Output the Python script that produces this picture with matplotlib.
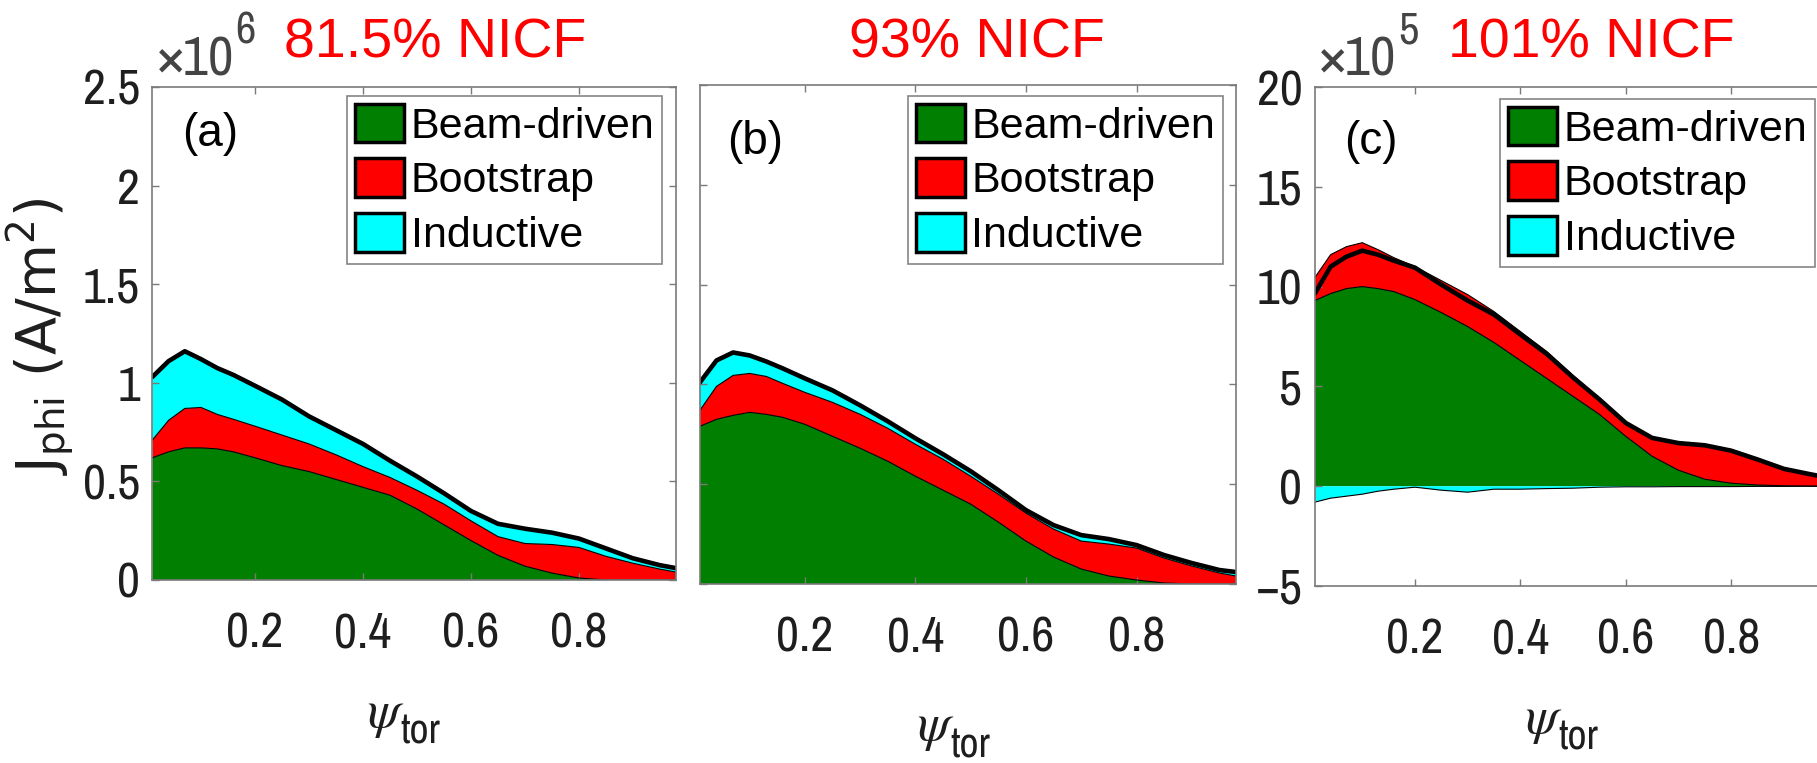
import matplotlib
matplotlib.use('Agg')
import matplotlib.pyplot as plt
from matplotlib.patches import Patch
from matplotlib import font_manager as fm
import numpy as np

W, H = 1817, 763

# normalised toroidal flux
psi = [0.01, 0.04, 0.07, 0.10, 0.13, 0.16, 0.20, 0.25, 0.30, 0.35, 0.40, 0.45,
       0.50, 0.55, 0.60, 0.65, 0.70, 0.75, 0.80, 0.85, 0.90, 0.95, 0.98]

# (a) 81.5% NICF, units 1e6 A/m^2
beam_a = [0.62, 0.65, 0.67, 0.67, 0.665, 0.65, 0.62, 0.58, 0.55, 0.51, 0.47, 0.43,
          0.36, 0.28, 0.20, 0.125, 0.07, 0.035, 0.01, 0.0, 0.0, 0.0, 0.0]
boot_a = [0.09, 0.16, 0.20, 0.205, 0.175, 0.165, 0.16, 0.155, 0.14, 0.125, 0.105, 0.09,
          0.095, 0.105, 0.10, 0.095, 0.115, 0.145, 0.155, 0.12, 0.085, 0.055, 0.04]
ind_a = [0.32, 0.30, 0.29, 0.245, 0.235, 0.225, 0.205, 0.18, 0.14, 0.125, 0.115, 0.085,
         0.07, 0.055, 0.05, 0.065, 0.075, 0.06, 0.045, 0.04, 0.025, 0.02, 0.02]

# (b) 93% NICF, units 1e6 A/m^2
beam_b = [0.79, 0.825, 0.845, 0.86, 0.85, 0.835, 0.80, 0.74, 0.68, 0.615, 0.54, 0.47,
          0.40, 0.31, 0.215, 0.135, 0.075, 0.04, 0.02, 0.005, 0.0, 0.0, 0.0]
boot_b = [0.08, 0.165, 0.20, 0.195, 0.19, 0.17, 0.16, 0.17, 0.17, 0.165, 0.16, 0.155,
          0.14, 0.14, 0.14, 0.14, 0.14, 0.16, 0.16, 0.125, 0.09, 0.055, 0.04]
ind_b = [0.14, 0.13, 0.115, 0.09, 0.075, 0.075, 0.07, 0.06, 0.045, 0.035, 0.03, 0.025,
         0.025, 0.02, 0.015, 0.02, 0.03, 0.025, 0.015, 0.015, 0.015, 0.015, 0.02]

# (c) 101% NICF, units 1e5 A/m^2
beam_c = [9.3, 9.65, 9.9, 10.0, 9.9, 9.75, 9.35, 8.7, 8.0, 7.2, 6.3, 5.4,
          4.5, 3.6, 2.5, 1.5, 0.8, 0.35, 0.15, 0.06, 0.02, 0.0, 0.0]
boot_c = [1.15, 1.95, 2.1, 2.2, 1.95, 1.7, 1.65, 1.6, 1.6, 1.55, 1.45, 1.35,
          1.05, 0.8, 0.7, 0.95, 1.38, 1.72, 1.65, 1.29, 0.86, 0.6, 0.45]
ind_c = [-0.8, -0.6, -0.5, -0.4, -0.25, -0.15, -0.05, -0.2, -0.3, -0.15, -0.15, -0.12,
         -0.1, -0.05, -0.03, -0.03, -0.02, -0.02, -0.02, -0.01, -0.01, 0.0, 0.0]

titles = ['81.5% NICF', '93% NICF', '101% NICF']
tags = ['(a)', '(b)', '(c)']
labels = ['Beam-driven', 'Bootstrap', 'Inductive']
xticks = [0.2, 0.4, 0.6, 0.8]
yticks_ab = [0, 0.5, 1, 1.5, 2, 2.5]
ylab_ab = ['0', '0.5', '1', '1.5', '2', '2.5']
yticks_c = [-5, 0, 5, 10, 15, 20]
ylab_c = ['\u22125', '0', '5', '10', '15', '20']

GREEN, RED, CYAN = '#007f00', '#ff0000', '#00ffff'
SPINE = '#7a7a7a'
TXT = '#1e1e1e'


def pick_narrow():
    cands = []
    for f in fm.fontManager.ttflist:
        p = f.fname.lower()
        n = f.name.lower()
        if any(s in p for s in ('bold', 'italic', 'oblique')):
            continue
        if 'narrow' in n or 'narrow' in p:
            cands.append((0, f.fname))
        elif 'condensed' in p and 'semi' not in p and 'extra' not in p:
            cands.append((1, f.fname))
    if cands:
        cands.sort()
        return fm.FontProperties(fname=cands[0][1]), cands[0][0]
    return fm.FontProperties(family='Liberation Sans'), 2


narrow, kind = pick_narrow()
tick_size = {0: 36, 1: 32, 2: 30}[kind]


def fx(px):
    return px / W


def fy(py):
    return 1 - py / H


fig = plt.figure(figsize=(W / 100, H / 100), dpi=100)

# axes boxes in pixels: left, top, right, bottom
boxes = [(152.4, 87, 676.2, 580), (699.9, 85, 1236.0, 584), (1314.8, 87, 1826.0, 586)]
series = [(beam_a, boot_a, ind_a), (beam_b, boot_b, ind_b), (beam_c, boot_c, ind_c)]
legend_ur = [(662, 96), (1223, 96), (1815, 99)]
title_xy = [(435, 58), (977, 58), (1591, 58)]
tag_xy = [(210, 134), (755, 142), (1371, 142)]
mult = ['6', None, '5']

for k in range(3):
    l, t, r, b = boxes[k]
    ax = fig.add_axes([fx(l), fy(b), (r - l) / W, (b - t) / H])
    x = np.array(psi)
    bm, bs, ind = (np.array(v) for v in series[k])
    top1 = bm
    top2 = bm + bs
    ax.fill_between(x, 0, top1, facecolor=GREEN, lw=0)
    ax.fill_between(x, top1, top2, facecolor=RED, lw=0)
    if (ind >= 0).all():
        ax.fill_between(x, top2, top2 + ind, facecolor=CYAN, lw=0)
    else:
        ax.fill_between(x, 0, ind, facecolor=CYAN, lw=0)
        ax.plot(x, ind, color='k', lw=0.8)
    ax.plot(x, top1, color='k', lw=0.8)
    ax.plot(x, top2, color='k', lw=0.8)
    ax.plot(x, bm + bs + ind, color='k', lw=3.3, solid_capstyle='round')

    ax.set_xlim(0.01, 0.98)
    ax.set_xticks(xticks)
    ax.set_xticklabels([f'{v:.1f}' for v in xticks], fontproperties=narrow, fontsize=tick_size)
    if k < 2:
        ax.set_ylim(0, 2.5)
        ax.set_yticks(yticks_ab)
        ax.set_yticklabels(ylab_ab, fontproperties=narrow, fontsize=tick_size)
    else:
        ax.set_ylim(-5, 20)
        ax.set_yticks(yticks_c)
        ax.set_yticklabels(ylab_c, fontproperties=narrow, fontsize=tick_size)
    ax.tick_params(direction='in', length=5, width=1, color=SPINE, labelcolor=TXT,
                   top=True, right=True)
    ax.tick_params(axis='x', pad=23)
    ax.tick_params(axis='y', pad=9)
    if k == 1:
        ax.tick_params(axis='y', labelleft=False)
    for s in ax.spines.values():
        s.set_color(SPINE)
        s.set_linewidth(1.2)

    # multiplier above the y axis, anchored to the axes' top-left corner
    if mult[k]:
        t1 = ax.annotate('\u00d710', xy=(0, 1), xycoords='axes fraction',
                         xytext=(4, 11), textcoords='offset pixels',
                         fontproperties=narrow, fontsize=tick_size + 4,
                         color='#444444', ha='left', va='baseline', annotation_clip=False)
        fig.canvas.draw()
        bb = t1.get_window_extent()
        fig.text(bb.x1 / W + 0.001, fy(b - (b - t) - 44), mult[k], fontproperties=narrow,
                 fontsize=tick_size - 4, color='#444444', ha='left', va='baseline')

    handles = [Patch(facecolor=c, edgecolor='k', lw=2.5) for c in (GREEN, RED, CYAN)]
    lx, ly = legend_ur[k]
    leg = ax.legend(handles, labels, loc='upper right', bbox_to_anchor=(fx(lx), fy(ly)),
                    bbox_transform=fig.transFigure, borderaxespad=0, frameon=True,
                    fancybox=False, prop={'family': 'Liberation Sans', 'size': 31},
                    handlelength=1.15, handleheight=1.0, handletextpad=0.15,
                    labelspacing=0.27, borderpad=0.18)
    leg.get_frame().set_edgecolor('#666666')
    leg.get_frame().set_linewidth(1.2)

    tx, ty = title_xy[k]
    fig.text(fx(tx), fy(ty), titles[k], color='red', fontsize=40,
             family='Liberation Sans', ha='center', va='baseline')
    gx, gy = tag_xy[k]
    fig.text(fx(gx), fy(gy), tags[k], color='k', fontsize=33,
             family='Liberation Sans', ha='center', va='center')

# x labels
for (cx, py) in [(386, 727), (936, 740), (1544, 733)]:
    fig.text(fx(cx), fy(py), r'$\psi$', fontsize=38, ha='center', va='baseline',
             color=TXT, math_fontfamily='stix')
    fig.text(fx(cx + 14), fy(py + 17), 'tor', fontproperties=narrow, fontsize=tick_size - 6,
             ha='left', va='baseline', color=TXT)

# y label
fig.text(fx(40), fy(337), r'J$_{\mathrm{phi}}$ (A/m$^2$)', rotation=90, fontsize=40,
         family='DejaVu Sans', math_fontfamily='dejavusans', ha='center', va='center',
         color=TXT)

fig.savefig('out.png', dpi=100)
